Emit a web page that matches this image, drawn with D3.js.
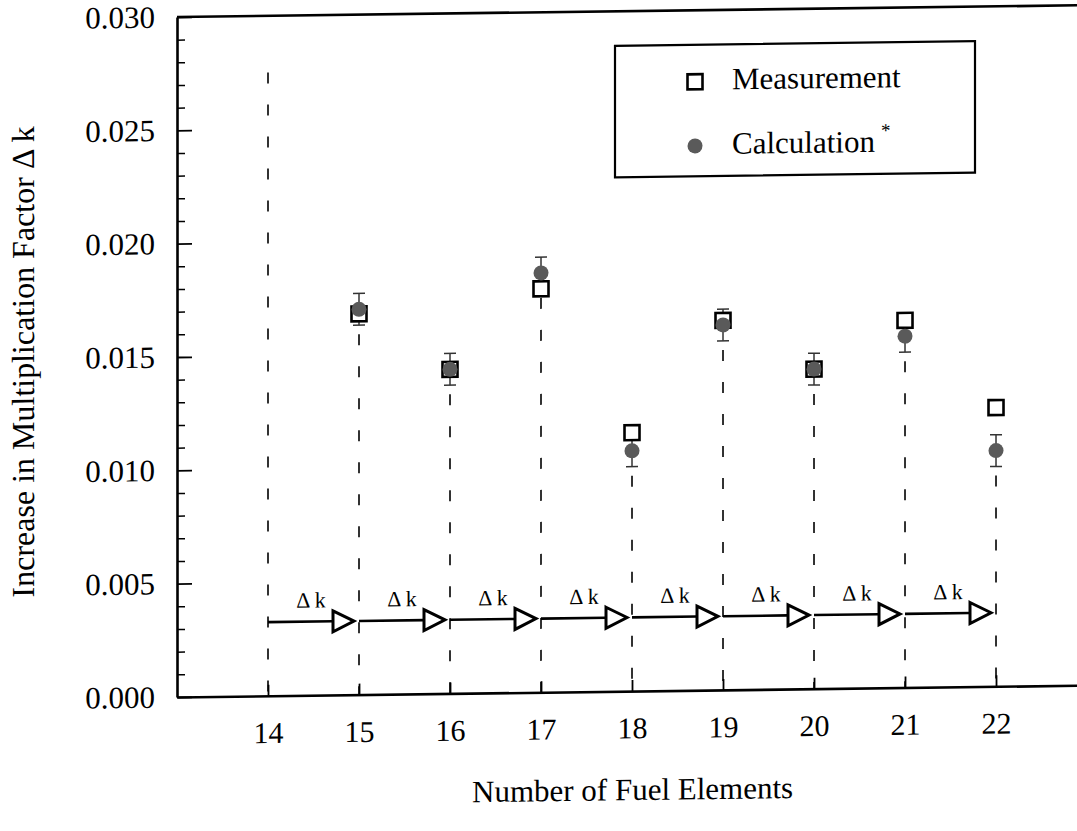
<!DOCTYPE html>
<html>
<head>
<meta charset="utf-8">
<script src="https://cdn.jsdelivr.net/npm/d3@7"></script>
<style>
  html, body { margin: 0; padding: 0; background: #fff; }
  svg { display: block; }
  text { font-family: "Liberation Serif", "Times New Roman", serif; fill: #000; }
</style>
</head>
<body>
<script>
// Number of fuel elements loaded at each step
const fuelElements = [15, 16, 17, 18, 19, 20, 21, 22];
// Measured increase in multiplication factor per added element
const measured   = [0.0168, 0.0143, 0.0178, 0.0114, 0.0163, 0.0141, 0.0162, 0.0123];
// Calculated increase and its uncertainty
const calculated = [0.0170, 0.0143, 0.0185, 0.0106, 0.0161, 0.0141, 0.0155, 0.0104];
const calcError  = [0.0007, 0.0007, 0.0007, 0.0007, 0.0007, 0.0007, 0.0007, 0.0007];

// Axis ticks
const xTicks = [14, 15, 16, 17, 18, 19, 20, 21, 22];
const yMajorTicks = [0, 0.005, 0.010, 0.015, 0.020, 0.025, 0.030];
const yMinorTicks = [0.001, 0.002, 0.003, 0.004, 0.006, 0.007, 0.008, 0.009,
                     0.011, 0.012, 0.013, 0.014, 0.016, 0.017, 0.018, 0.019,
                     0.021, 0.022, 0.023, 0.024, 0.026, 0.027, 0.028, 0.029];

// Level of the "Δ k" step arrows and top of the reference line at 14 elements
const stepArrowLevel = 0.00325;
const startLineTop = 0.0275;

const W = 1077, H = 831;
const x = d3.scaleLinear().domain([13, 22.89]).range([177, 1077]);
const y = d3.scaleLinear().domain([0, 0.030]).range([697, 17]);

const svg = d3.select("body").append("svg")
  .attr("width", W).attr("height", H);

// whole figure sits on a slightly sheared baseline
const g = svg.append("g")
  .attr("transform", "translate(177,697) matrix(1,-0.013,0,1,0,0) translate(-177,-697)");

// ---- axes ----
const yAxisG = g.append("g").attr("transform", `translate(${x(13)},0)`)
  .call(d3.axisLeft(y).tickValues(yMajorTicks).tickSize(-15).tickSizeOuter(0)
        .tickPadding(22).tickFormat(d3.format(".3f")));
yAxisG.select(".domain").attr("stroke-width", 2.6);
yAxisG.selectAll(".tick line").attr("stroke-width", 1.8);
yAxisG.selectAll(".tick text").attr("font-size", 31);

const yMinorG = g.append("g").attr("transform", `translate(${x(13)},0)`)
  .call(d3.axisLeft(y).tickValues(yMinorTicks).tickSize(-8).tickSizeOuter(0).tickFormat(""));
yMinorG.select(".domain").remove();
yMinorG.selectAll(".tick line").attr("stroke-width", 1.5);

const xAxisG = g.append("g").attr("transform", `translate(0,${y(0)})`)
  .call(d3.axisBottom(x).tickValues(xTicks).tickSize(-11).tickSizeOuter(0)
        .tickPadding(26).tickFormat(d3.format("d")));
xAxisG.select(".domain").attr("stroke-width", 2.6);
xAxisG.selectAll(".tick line").attr("stroke-width", 1.8);
xAxisG.selectAll(".tick text").attr("font-size", 30);

// top frame line
g.append("line")
  .attr("x1", x(13)).attr("x2", x.range()[1])
  .attr("y1", y(0.030)).attr("y2", y(0.030))
  .attr("stroke", "#000").attr("stroke-width", 2.6);

// ---- dashed drop lines ----
const dropLines = [{n: xTicks[0], top: startLineTop}].concat(
  fuelElements.map((n, i) => ({
    n, top: Math.min(measured[i], calculated[i] - calcError[i]) - 0.0004
  })));
g.append("g").selectAll("line").data(dropLines).join("line")
  .attr("x1", d => x(d.n)).attr("x2", d => x(d.n))
  .attr("y1", d => y(d.top)).attr("y2", y(0))
  .attr("stroke", "#000").attr("stroke-width", 1.6)
  .attr("stroke-dasharray", "11 21");

// ---- Δk step arrows ----
const steps = d3.pairs(xTicks);
const arrowG = g.append("g");
steps.forEach(([a, b]) => {
  const yy = y(stepArrowLevel);
  const tip = x(b) - 5, base = tip - 21;
  arrowG.append("line")
    .attr("x1", x(a)).attr("x2", base).attr("y1", yy).attr("y2", yy)
    .attr("stroke", "#000").attr("stroke-width", 2.6);
  arrowG.append("path")
    .attr("d", `M${base},${yy - 10.5}L${tip},${yy}L${base},${yy + 10.5}Z`)
    .attr("fill", "#fff").attr("stroke", "#000").attr("stroke-width", 3);
  arrowG.append("text")
    .attr("x", (x(a) + x(b)) / 2 - 2.5).attr("y", yy - 14)
    .attr("text-anchor", "middle").attr("font-size", 22)
    .text("\u0394 k");
});

// ---- error bars on calculation ----
const errG = g.append("g").attr("stroke", "#333").attr("stroke-width", 1.5);
fuelElements.forEach((n, i) => {
  const cx = x(n);
  const lo = y(calculated[i] - calcError[i]), hi = y(calculated[i] + calcError[i]);
  errG.append("line").attr("x1", cx).attr("x2", cx).attr("y1", lo).attr("y2", hi);
  errG.append("line").attr("x1", cx - 6).attr("x2", cx + 6).attr("y1", lo).attr("y2", lo);
  errG.append("line").attr("x1", cx - 6).attr("x2", cx + 6).attr("y1", hi).attr("y2", hi);
});

// ---- measurement squares ----
const sq = 15;
g.append("g").selectAll("rect").data(fuelElements).join("rect")
  .attr("x", d => x(d) - sq / 2)
  .attr("y", (d, i) => y(measured[i]) - sq / 2)
  .attr("width", sq).attr("height", sq)
  .attr("fill", "#fff").attr("stroke", "#000").attr("stroke-width", 2.6);

// ---- calculation circles ----
g.append("g").selectAll("circle").data(fuelElements).join("circle")
  .attr("cx", d => x(d))
  .attr("cy", (d, i) => y(calculated[i]))
  .attr("r", 7.5)
  .attr("fill", "#5a5a5a");

// ---- legend ----
const leg = g.append("g");
leg.append("rect")
  .attr("x", 615).attr("y", 51.5).attr("width", 360).attr("height", 131.5)
  .attr("fill", "#fff").attr("stroke", "#000").attr("stroke-width", 2.2);
leg.append("rect")
  .attr("x", 695 - sq / 2).attr("y", 88.5 - sq / 2).attr("width", sq).attr("height", sq)
  .attr("fill", "#fff").attr("stroke", "#000").attr("stroke-width", 2.6);
leg.append("text").attr("x", 732).attr("y", 96.5).attr("font-size", 31).text("Measurement");
leg.append("circle").attr("cx", 695).attr("cy", 152.7).attr("r", 7.5).attr("fill", "#5a5a5a");
leg.append("text").attr("x", 732).attr("y", 161).attr("font-size", 31).text("Calculation");
leg.append("text").attr("x", 881).attr("y", 146).attr("font-size", 19).text("*");

// ---- axis titles ----
g.append("text")
  .attr("x", 472).attr("y", 806).attr("font-size", 31)
  .text("Number of Fuel Elements");
g.append("text")
  .attr("transform", "translate(34,360) rotate(-90)")
  .attr("text-anchor", "middle").attr("font-size", 32)
  .text("Increase in Multiplication Factor  \u0394 k");
</script>
</body>
</html>
